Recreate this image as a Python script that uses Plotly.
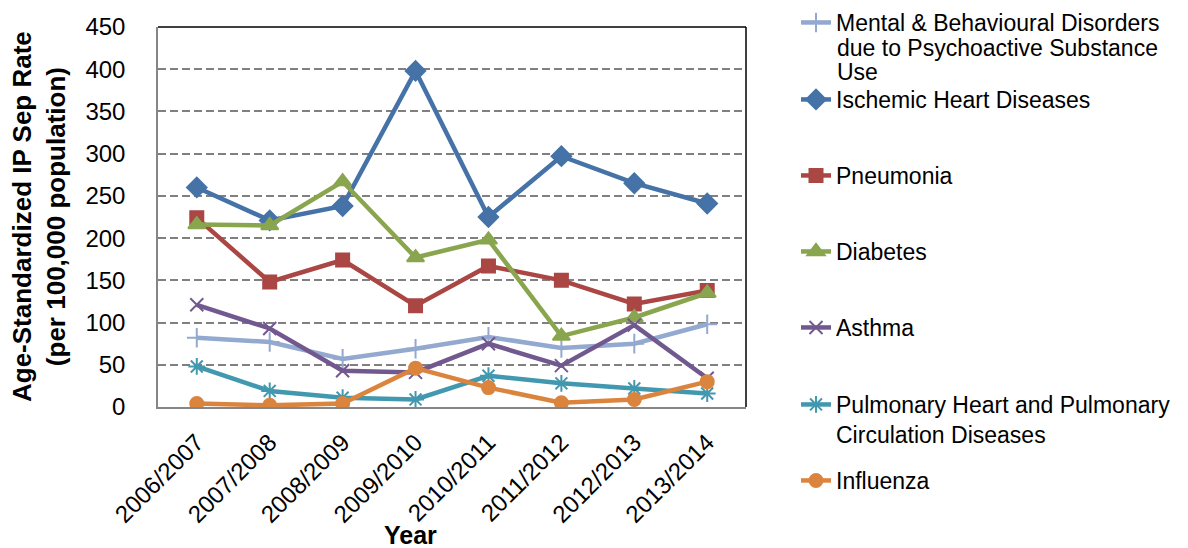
import plotly.graph_objects as go

years = ["2006/2007", "2007/2008", "2008/2009", "2009/2010",
         "2010/2011", "2011/2012", "2012/2013", "2013/2014"]

mental = [82, 77, 57, 69, 83, 70, 75, 98]
ischemic = [260, 221, 238, 398, 225, 297, 265, 241]
pneumonia = [224, 148, 174, 120, 167, 150, 122, 138]
diabetes = [216, 215, 267, 177, 198, 84, 106, 135]
asthma = [121, 93, 43, 41, 75, 49, 97, 34]
pulmonary = [48, 19, 11, 9, 37, 28, 22, 16]
influenza = [4, 2, 4, 46, 23, 5, 9, 30]

series = [
    ("Mental & Behavioural Disorders", mental, "#93A9CF", "cross-thin-open", 14),
    ("Ischemic Heart Diseases", ischemic, "#4572A7", "diamond", 15),
    ("Pneumonia", pneumonia, "#AA4643", "square", 13),
    ("Diabetes", diabetes, "#89A54E", "triangle-up", 15),
    ("Asthma", asthma, "#71588F", "x-thin-open", 13),
    ("Pulmonary Heart and Pulmonary<br>Circulation Diseases",
     pulmonary, "#4198AF", "asterisk-open", 14),
    ("Influenza", influenza, "#DB843D", "circle", 13),
]
# the first entry's name continues on these lines (pixel rows below)
mental_extra_lines = ["due to Psychoactive Substance", "Use"]
mental_extra_rows = [48, 72]

# vertical pixel centre of each legend entry's first text line
legend_rows = [22, 99, 175, 251, 327, 404, 480]

W, H = 1188, 548
L, R, T, B = 158, 442, 27, 141
plot_h = H - T - B
plot_w = W - L - R
font = "Liberation Sans, Arial, sans-serif"
legend_left = 796
text_left = 836

fig = go.Figure()
layout_legends = {}
for i, (name, vals, color, sym, size) in enumerate(series):
    key = "legend" if i == 0 else f"legend{i + 1}"
    fig.add_trace(go.Scatter(
        x=years, y=vals, name=name, mode="lines+markers",
        line=dict(color=color, width=4.5),
        marker=dict(symbol=sym, size=size, color=color,
                    line=dict(color=color, width=2)),
        legend=key, hoverinfo="skip",
    ))
    py = legend_rows[i]
    layout_legends[key] = dict(
        xref="container", yref="container",
        x=legend_left / W, xanchor="left",
        y=1 - (py - 21) / H, yanchor="top",
        valign="top", bgcolor="rgba(0,0,0,0)", borderwidth=0,
        font=dict(family=font, size=23, color="#000000"),
        tracegroupgap=0, itemclick=False, itemdoubleclick=False,
    )

fig.update_layout(
    width=W, height=H,
    margin=dict(l=L, r=R, t=T, b=B, autoexpand=False),
    paper_bgcolor="white", plot_bgcolor="white",
    font=dict(family=font, size=23, color="#000000"),
    showlegend=True,
    **layout_legends,
)

for line, row in zip(mental_extra_lines, mental_extra_rows):
    fig.add_annotation(
        text=line, xref="paper", yref="paper",
        x=(text_left - L) / plot_w, y=(H - B - row) / plot_h,
        xanchor="left", yanchor="middle", showarrow=False, borderpad=0,
        font=dict(family=font, size=23, color="#000000"),
    )

fig.update_xaxes(
    type="category", showgrid=False, zeroline=False,
    showline=True, linecolor="#868686", linewidth=1.5,
    ticks="", tickangle=-45, ticklabelstandoff=10,
    tickfont=dict(family=font, size=24, color="#000000"),
)
fig.update_yaxes(
    range=[0, 450], dtick=50, tick0=0,
    showgrid=True, gridcolor="#808080", gridwidth=1.5, griddash="8px,4px",
    zeroline=False, showline=True, linecolor="#868686", linewidth=1.5,
    ticks="", ticklabelstandoff=26,
    tickfont=dict(family=font, size=24, color="#000000"),
)

# plot area border on the top and right edges
fig.add_shape(type="line", xref="paper", yref="paper", x0=0, x1=1, y0=1, y1=1,
              line=dict(color="#000000", width=1.5))
fig.add_shape(type="line", xref="paper", yref="paper", x0=1, x1=1, y0=0, y1=1,
              line=dict(color="#000000", width=1.5))

fig.add_annotation(
    text="<b>Age-Standardized IP Sep Rate<br>(per 100,000 population)</b>",
    xref="paper", yref="paper", x=(39 - L) / plot_w, y=0.5,
    xanchor="center", yanchor="middle", textangle=-90, showarrow=False,
    font=dict(family=font, size=26, color="#000000"),
)
fig.add_annotation(
    text="<b>Year</b>", xref="paper", yref="paper",
    x=(410 - L) / plot_w, y=-(535 - (H - B)) / plot_h,
    xanchor="center", yanchor="middle", showarrow=False,
    font=dict(family=font, size=25, color="#000000"),
)

fig.write_html("out.html")
